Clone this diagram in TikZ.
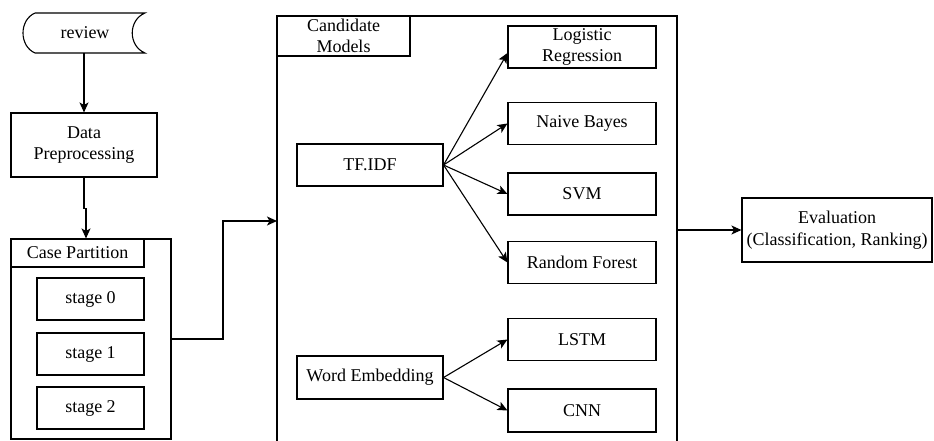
\documentclass[tikz,border=0pt]{standalone}
\usepackage{fontspec}
\setmainfont{Liberation Serif}
\newfontfamily\labelfont{Liberation Serif}
\usetikzlibrary{arrows.meta}
\begin{document}
\begin{tikzpicture}[x=1pt,y=-1pt,
  line width=1.1pt,
  every node/.style={font=\labelfont\fontsize{18}{21.6}\selectfont, inner sep=0pt, align=center},
  box/.style={draw, minimum width=146pt, minimum height=42pt},
  model/.style={draw, minimum width=148pt, minimum height=42pt},
  arr/.style={-{Stealth[length=10pt,width=9pt,inset=2.5pt]}}]
\useasboundingbox (0,0) rectangle (934,441);

% input document shape
\draw (35,13) -- (145,13) .. controls (128,20) and (128,46) .. (145,53)
      -- (35,53) .. controls (19,46) and (19,20) .. (35,13);
\node (rev) at (85,33) {review};
\coordinate (revb) at (84,53);

% preprocessing
\node[box, minimum height=64pt] (dp) at (84,145) {Data\\Preprocessing};

% case partition group
\node[draw, minimum width=160pt, minimum height=200pt] (cp) at (91,339) {};
\node[draw, minimum width=133pt, minimum height=28pt] (cph) at (77.5,253) {Case Partition};
\node[draw, minimum width=107pt, minimum height=42pt] (s0) at (90.5,299) {stage 0};
\node[draw, minimum width=107pt, minimum height=42pt] (s1) at (90.5,354) {stage 1};
\node[draw, minimum width=107pt, minimum height=42pt] (s2) at (90.5,408) {stage 2};

% candidate models group (runs past the lower edge)
\draw (277,470) -- (277,16) -- (677,16) -- (677,470);
\node[draw, minimum width=133pt, minimum height=40pt] (cmh) at (343.5,36) {Candidate\\Models};
\coordinate (cmin) at (277,221);
\coordinate (cmout) at (677,230);

\node[box] (tfidf) at (370,165) {TF.IDF};
\node[box, minimum height=43pt] (we) at (370,377.5) {Word Embedding};

\node[model] (lr) at (582,47) {Logistic\\Regression};
\node[model] (nb) at (582,123.5) {Naive Bayes};
\node[model] (svm) at (582,194) {SVM};
\node[model] (rf) at (582,262.5) {Random Forest};
\node[model] (lstm) at (582,339.5) {LSTM};
\node[model, minimum height=43pt] (cnn) at (582,410.5) {CNN};

% evaluation
\node[draw, minimum width=190pt, minimum height=64pt] (ev) at (837,230) {Evaluation\\(Classification, Ranking)};

% connectors
\draw[arr] (revb) -- (dp.north);
\draw[arr] (dp.south) -- ++(0,31) -| ([xshift=2pt]dp.south |- cp.north);
\draw[arr] (cp.east) -| ([xshift=-54pt]cmin) -- (cmin);
\draw[arr] (tfidf.east) -- ([yshift=-6pt]lr.west);
\draw[arr] (tfidf.east) -- (nb.west);
\draw[arr] (tfidf.east) -- (svm.west);
\draw[arr] (tfidf.east) -- (rf.west);
\draw[arr] (we.east) -- (lstm.west);
\draw[arr] (we.east) -- (cnn.west);
\draw[arr] (cmout) -- (ev.west);
\end{tikzpicture}
\end{document}
